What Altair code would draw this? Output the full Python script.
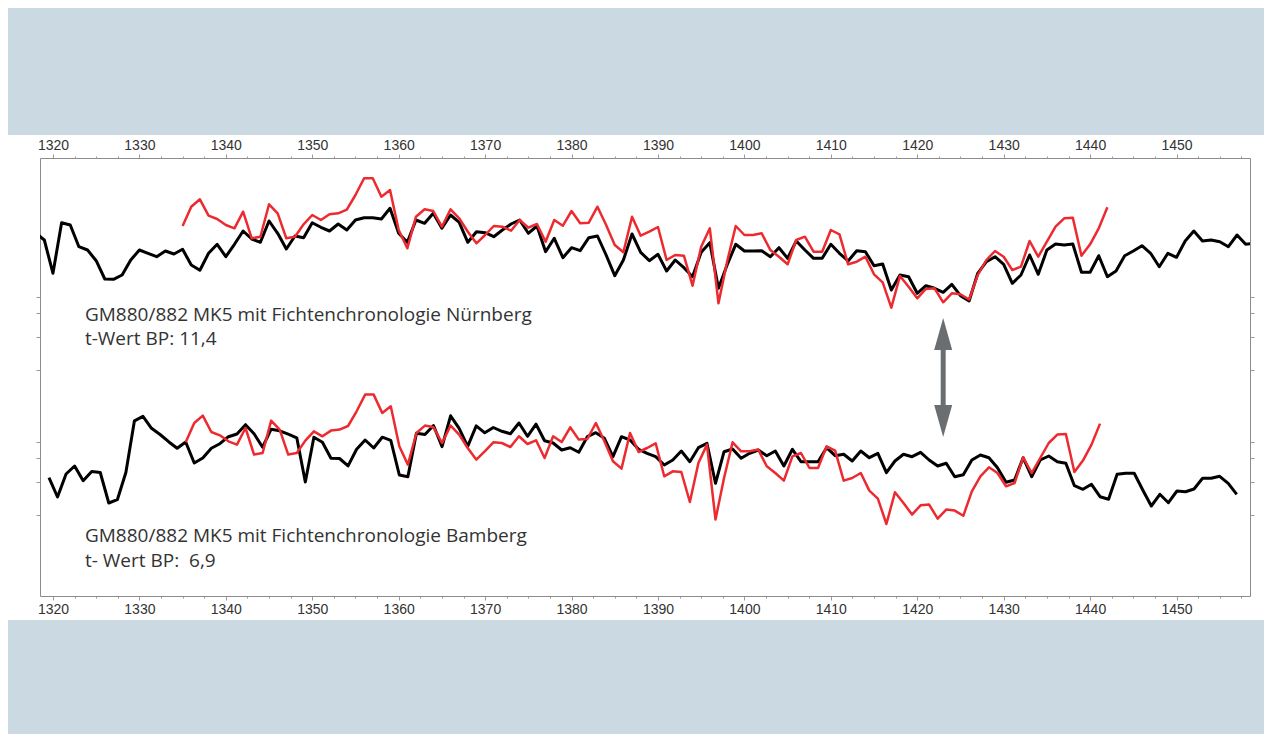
import altair as alt
import pandas as pd

# ---------------- data (arbitrary ring-width units) ----------------
NBG_START = 1318
NUERNBERG = [
    363, 356, 322.7, 373.3, 371, 349.3, 346, 335.3, 317, 316.7,
    321, 336, 346, 342.7, 339.3, 345, 342, 346.7, 331, 325.7,
    342.7, 351.7, 339.3, 351.7, 365, 357, 353.7, 375, 362.7, 347,
    360, 358.3, 373.3, 368.7, 365, 372, 366, 376, 378.3, 378.3,
    377, 387.7, 362.7, 353.7, 376, 372.7, 382.7, 367.7, 381, 373.7,
    353.7, 364.3, 363.3, 359.3, 366, 372, 376, 362.7, 370, 344.3,
    357.7, 338.3, 348.3, 345.3, 358.3, 360, 341, 320.3, 336, 362,
    343.7, 335.3, 341.7, 325, 336, 328.3, 319.3, 343.7, 353.3, 307.7,
    331, 351.7, 345, 345, 345.3, 339.3, 348.3, 337.7, 355, 346,
    337.7, 337.7, 351.7, 342.7, 335, 345.3, 344.3, 330.3, 332, 306,
    321, 319.3, 302.7, 310.3, 307.7, 303.7, 311.7, 300.3, 295, 322.7,
    334.3, 339.3, 331.7, 312.7, 321, 341, 321.7, 346, 352, 351,
    352, 323.7, 323.7, 340.3, 319.3, 325, 340.3, 345, 350.3, 342.7,
    329.3, 342.7, 338.7, 355, 365, 355, 356, 354.3, 349.3, 361,
    351.7, 353,
]

SAMPLE_START = 1335
SAMPLE = [
    370, 389.3, 396.7, 380.3, 377, 371, 367.7, 384.3, 357.7, 359.3,
    391.7, 382.7, 357.7, 359.3, 371.7, 381, 376, 381.7, 382.7, 386.3,
    401, 417.7, 417.7, 399.3, 406, 366, 347.7, 379.3, 386.7, 385,
    369.3, 386.7, 377.7, 364.3, 352.7, 361, 370, 369.3, 365.3, 376,
    368.3, 372, 354.3, 376, 370.3, 385, 372.7, 373.3, 389.3, 371,
    351, 343.7, 379.3, 360.3, 364.3, 369, 336, 341, 340.3, 310.3,
    349.3, 367.7, 292.7, 334.3, 370, 361, 361, 362.7, 346, 339.3,
    331.7, 356, 359.3, 344.3, 344.3, 366, 361.7, 331.7, 334.3, 339.3,
    321.7, 313.7, 288.3, 320, 309.3, 297.7, 307, 307.7, 293.7, 302.7,
    301.7, 296.5, 321, 336, 345, 339.3, 326, 329.3, 355, 339.3,
    354.3, 369.3, 377.7, 378.3, 340.3, 351.7, 367.7, 388.7,
]

BBG_START = 1319
BAMBERG = [
    118.3, 99, 122, 130, 115.3, 124.5, 123.5, 93, 96.3, 123.5,
    175.2, 179.7, 167.7, 161.5, 154.3, 147.7, 154, 133, 138, 147.7,
    152.3, 159.3, 162, 171.3, 162.3, 148.8, 166.8, 165.2, 161.8, 158.2,
    114, 158.8, 153.8, 137.7, 137.5, 130.1, 146.8, 156, 148, 158.8,
    155.7, 121, 119.3, 162.7, 161.5, 170.5, 149.3, 180.2, 167.7, 149.7,
    170.2, 163.2, 168.5, 164.7, 162.3, 173, 159.7, 171.8, 155.2, 153,
    146, 148.3, 143.7, 159.3, 163.3, 157.7, 139.3, 159.3, 156, 146.7,
    142.7, 139.3, 131, 136, 145, 134.3, 148.3, 152.7, 112.7, 144.3,
    147, 137.7, 142.7, 146, 140.3, 145, 130, 146.7, 134.3, 134.3,
    134.3, 148.3, 140.3, 141.7, 135, 145, 138.3, 142.7, 123.3, 135,
    141.7, 139.3, 143.7, 136, 130, 132.7, 119.3, 121.3, 136, 141,
    138.3, 128.3, 113.7, 116, 138.3, 119.3, 136, 140, 134.3, 132.7,
    110.3, 106.7, 111.7, 99.3, 96.7, 121.7, 122.7, 122.7, 106, 90,
    101.7, 93.3, 105, 104.3, 107, 117.7, 117.7, 119.7, 112.7, 101.7,
]

MAJOR_YEARS = [1320, 1330, 1340, 1350, 1360, 1370, 1380, 1390, 1400, 1410, 1420, 1430, 1440, 1450]
MINOR_STEP = 2.5
Y_TICKS = [299, 282.7, 259.3, 226, 154, 138, 114, 81]

TEXTS = [
    "GM880/882 MK5 mit Fichtenchronologie Nürnberg",
    "t-Wert BP: 11,4",
    "GM880/882 MK5 mit Fichtenchronologie Bamberg",
    "t- Wert BP:\u00a0 6,9",
]
TEXT_YEAR = [1323.7, 1323.7, 1323.7, 1323.7]
TEXT_LEVEL = [275.3, 251, 54.3, 29.5]

ARROW_YEAR = 1423
ARROW_SHAFT = [248, 189]
ARROW_HEADS = [262, 175]

# scale domains (top pair and bottom pair were drawn with slightly different year scales)
X_TOP = [1318.5, 1458.5]
X_BOT = [1317.95, 1459.55]
Y_TOP = [0, 438]
Y_SAMPLE_BOT = [216.3, 654.3]

W, H = 1210, 438
RED = "#ec2a2f"
BLACK = "#000000"
GREY = "#8c8c8c"
ARROW = "#6b6e70"
BAND = "#cbd9e3"

# ---------------- tables ----------------
df_nbg = pd.DataFrame({"year": [NBG_START + i for i in range(len(NUERNBERG))], "v": NUERNBERG})
df_smp = pd.DataFrame({"year": [SAMPLE_START + i for i in range(len(SAMPLE))], "v": SAMPLE})
df_bbg = pd.DataFrame({"year": [BBG_START + i for i in range(len(BAMBERG))], "v": BAMBERG})
df_txt = pd.DataFrame({"year": TEXT_YEAR, "v": TEXT_LEVEL, "t": TEXTS})
df_shaft = pd.DataFrame({"year": [ARROW_YEAR], "v": [ARROW_SHAFT[0]], "v2": [ARROW_SHAFT[1]]})
df_up = pd.DataFrame({"year": [ARROW_YEAR], "v": [ARROW_HEADS[0]]})
df_dn = pd.DataFrame({"year": [ARROW_YEAR], "v": [ARROW_HEADS[1]]})

tick_values = [MAJOR_YEARS[0] + MINOR_STEP * i for i in range(int((1457.5 - MAJOR_YEARS[0]) / MINOR_STEP) + 1)]


def xaxis(orient, pad):
    return alt.Axis(
        orient=orient, values=tick_values, format="d",
        labelExpr="datum.value % 10 === 0 ? datum.label : ''",
        tickSize={"condition": {"test": "datum.value % 10 === 0", "value": 4}, "value": 2},
        tickColor="#999999", tickWidth=1, domain=False, grid=False,
        labelFont="Liberation Sans", labelFontSize=14, labelColor="#333333",
        labelPadding=pad, labelOverlap=False, labelFlush=False, labelBound=False, title=None,
        zindex=1,
    )


def yaxis(orient):
    return alt.Axis(orient=orient, values=Y_TICKS, labels=False, tickSize=4, tickColor="#999999",
                    domain=False, grid=False, title=None, zindex=1)


def X(domain, axis=None):
    return alt.X("year:Q", scale=alt.Scale(domain=domain, nice=False, zero=False), axis=axis)


def Y(domain, axis=None, field="v:Q"):
    return alt.Y(field, scale=alt.Scale(domain=domain, nice=False, zero=False), axis=axis)


band_top = alt.Chart(pd.DataFrame({"k": [0]})).mark_rect(color=BAND).encode(
    x=alt.value(-32), x2=alt.value(1224), y=alt.value(-150), y2=alt.value(-23)
)
band_bot = alt.Chart(pd.DataFrame({"k": [0]})).mark_rect(color=BAND).encode(
    x=alt.value(-32), x2=alt.value(1224), y=alt.value(462), y2=alt.value(576)
)

nbg = alt.Chart(df_nbg).mark_line(color=BLACK, strokeWidth=3, clip=True, strokeJoin="round").encode(
    x=X(X_TOP, xaxis("top", 2)), y=Y(Y_TOP, yaxis("left"))
)
smp_top = alt.Chart(df_smp).mark_line(color=RED, strokeWidth=2.5, clip=True, strokeJoin="round").encode(
    x=X(X_TOP, xaxis("bottom", 2)), y=Y(Y_TOP, yaxis("right"))
)
bbg = alt.Chart(df_bbg).mark_line(color=BLACK, strokeWidth=3, clip=True, strokeJoin="round").encode(
    x=X(X_BOT), y=Y(Y_TOP)
)
smp_bot = alt.Chart(df_smp).mark_line(color=RED, strokeWidth=2.5, clip=True, strokeJoin="round").encode(
    x=X(X_BOT), y=Y(Y_SAMPLE_BOT)
)
txt = alt.Chart(df_txt).mark_text(
    align="left", baseline="alphabetic", font="Open Sans", fontSize=19, color="#333333"
).encode(x=X(X_TOP), y=Y(Y_TOP), text="t:N")

shaft = alt.Chart(df_shaft).mark_rule(color=ARROW, strokeWidth=5).encode(
    x=X(X_TOP), y=Y(Y_TOP), y2="v2:Q"
)
head_up = alt.Chart(df_up).mark_point(
    shape="M0,-1L0.5625,1L-0.5625,1Z", size=1024, filled=True, color=ARROW, opacity=1, strokeWidth=0
).encode(x=X(X_TOP), y=Y(Y_TOP))
head_dn = alt.Chart(df_dn).mark_point(
    shape="M0,1L0.5625,-1L-0.5625,-1Z", size=1024, filled=True, color=ARROW, opacity=1, strokeWidth=0
).encode(x=X(X_TOP), y=Y(Y_TOP))

chart = alt.layer(band_top, band_bot, nbg, bbg, smp_top, smp_bot, txt, shaft, head_up, head_dn).resolve_scale(
    x="independent", y="independent"
).properties(
    width=W, height=H,
    padding={"left": 32, "top": 150, "right": 14, "bottom": 138},
    autosize=alt.AutoSizeParams(type="none"),
    background="#ffffff",
).configure_view(stroke=GREY, strokeWidth=1)

chart.save("out.html", embed_options={"renderer": "svg", "actions": False})
